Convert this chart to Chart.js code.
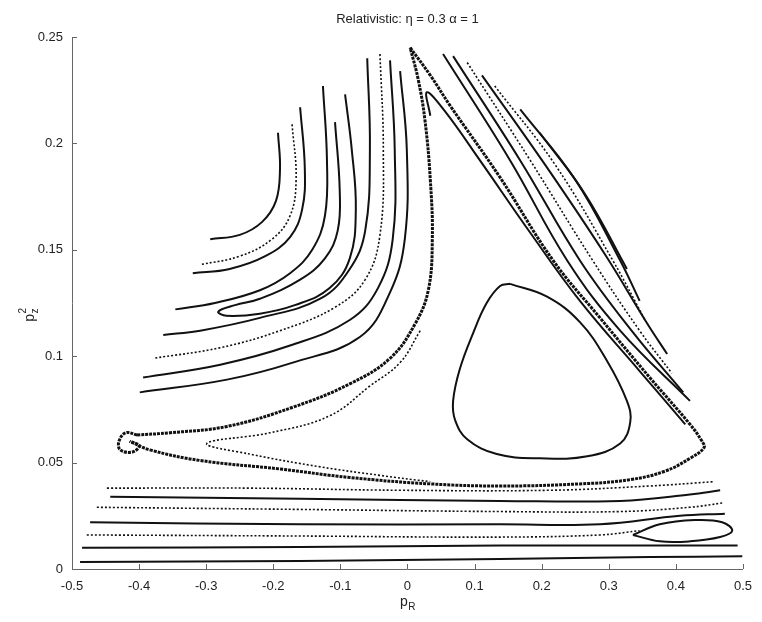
<!DOCTYPE html>
<html>
<head>
<meta charset="utf-8">
<script src="https://cdn.jsdelivr.net/npm/chart.js@4.4.0/dist/chart.umd.min.js"></script>
<style>
  html, body { margin: 0; padding: 0; background: #fff; }
  canvas { display: block; }
</style>
</head>
<body>
<canvas id="section" width="762" height="622"></canvas>
<script>
// Poincare section, relativistic case: pR on x, pz^2 on y
const titleText = "Relativistic: \u03b7 = 0.3 \u03b1 = 1";
const xTicks = [-0.5, -0.4, -0.3, -0.2, -0.1, 0, 0.1, 0.2, 0.3, 0.4, 0.5];
const yTicks = [0, 0.05, 0.1, 0.15, 0.2, 0.25];

// central regular island
const islandLoop = [
  [0.153, 0.134], [0.208, 0.128], [0.257, 0.116], [0.297, 0.098], [0.327, 0.079],
  [0.332, 0.069], [0.317, 0.059], [0.268, 0.053], [0.197, 0.052], [0.133, 0.054],
  [0.089, 0.061], [0.071, 0.070], [0.068, 0.079], [0.078, 0.094], [0.098, 0.111],
  [0.118, 0.125], [0.138, 0.133], [0.153, 0.134]
];

// separatrix: apex -> right corner -> bottom edge -> left corner
const sepRight = [
  [0.004, 0.245], [0.034, 0.232], [0.063, 0.218], [0.138, 0.184], [0.217, 0.145],
  [0.287, 0.118], [0.361, 0.090], [0.421, 0.068], [0.439, 0.060], [0.442, 0.057],
  [0.421, 0.052], [0.384, 0.046], [0.332, 0.042], [0.257, 0.040], [0.138, 0.039],
  [0.034, 0.040], [-0.086, 0.043], [-0.190, 0.047], [-0.309, 0.051], [-0.384, 0.056],
  [-0.414, 0.060]
];
// separatrix: left corner back up to apex
const sepLeft = [
  [-0.403, 0.063], [-0.354, 0.064], [-0.269, 0.067], [-0.171, 0.076], [-0.086, 0.087],
  [-0.026, 0.099], [0.011, 0.115], [0.031, 0.131], [0.037, 0.155], [0.034, 0.183],
  [0.026, 0.211], [0.016, 0.230], [0.004, 0.245]
];
const sepCorner = [
  [-0.403, 0.063], [-0.420, 0.064], [-0.430, 0.060], [-0.428, 0.056], [-0.410, 0.055],
  [-0.400, 0.058], [-0.414, 0.060]
];
const sepInnerLeft = [
  [0.019, 0.112], [-0.011, 0.097], [-0.056, 0.086], [-0.116, 0.072], [-0.205, 0.064],
  [-0.299, 0.059], [-0.235, 0.054], [-0.130, 0.048], [-0.041, 0.044], [0.034, 0.041]
];
const sepInnerRight = [
  [0.034, 0.213], [0.029, 0.224], [0.056, 0.215], [0.108, 0.192], [0.183, 0.158],
  [0.257, 0.126], [0.346, 0.093], [0.414, 0.068]
];

// chaotic layers beyond the right edge
const ur1 = [[0.053, 0.242], [0.153, 0.192], [0.238, 0.145], [0.317, 0.112], [0.421, 0.079]];
const ur2 = [[0.068, 0.241], [0.168, 0.192], [0.257, 0.145], [0.334, 0.112], [0.411, 0.083]];
const ur3 = [[0.089, 0.238], [0.183, 0.192], [0.276, 0.145], [0.346, 0.112], [0.394, 0.092]];
const ur4 = [[0.111, 0.232], [0.205, 0.190], [0.294, 0.148], [0.358, 0.115], [0.387, 0.101]];
const ur5 = [[0.130, 0.227], [0.220, 0.190], [0.306, 0.145], [0.354, 0.117]];
const ur6 = [[0.168, 0.216], [0.250, 0.183], [0.317, 0.145], [0.346, 0.126]];
const ur7 = [[0.197, 0.205], [0.265, 0.176], [0.327, 0.141]];

// arcs in the upper left
const arc1 = [[-0.193, 0.205], [-0.190, 0.188], [-0.196, 0.173], [-0.217, 0.163], [-0.250, 0.157], [-0.294, 0.155]];
const arc1b = [[-0.172, 0.209], [-0.166, 0.183], [-0.175, 0.166], [-0.202, 0.155], [-0.250, 0.147], [-0.309, 0.143]];
const arc2 = [[-0.160, 0.217], [-0.153, 0.188], [-0.157, 0.169], [-0.175, 0.156], [-0.212, 0.147], [-0.265, 0.141], [-0.320, 0.139]];
const arc3 = [[-0.126, 0.227], [-0.120, 0.192], [-0.123, 0.166], [-0.142, 0.150], [-0.175, 0.139], [-0.220, 0.131], [-0.287, 0.125], [-0.346, 0.122]];
const hairpin = [
  [-0.108, 0.210], [-0.101, 0.178], [-0.104, 0.159], [-0.123, 0.146], [-0.160, 0.136],
  [-0.220, 0.127], [-0.257, 0.124], [-0.282, 0.121], [-0.270, 0.119], [-0.220, 0.120],
  [-0.168, 0.124], [-0.116, 0.132], [-0.086, 0.146], [-0.077, 0.169], [-0.083, 0.197],
  [-0.093, 0.223]
];
const arc4 = [[-0.060, 0.240], [-0.056, 0.197], [-0.063, 0.159], [-0.086, 0.141], [-0.130, 0.127], [-0.220, 0.118], [-0.309, 0.112], [-0.364, 0.110]];
const arc5 = [[-0.041, 0.242], [-0.036, 0.197], [-0.041, 0.157], [-0.063, 0.136], [-0.108, 0.123], [-0.190, 0.112], [-0.279, 0.104], [-0.379, 0.099]];
const arc6 = [[-0.026, 0.239], [-0.019, 0.197], [-0.022, 0.155], [-0.044, 0.132], [-0.086, 0.117], [-0.175, 0.105], [-0.279, 0.096], [-0.394, 0.090]];
const arc7 = [[-0.011, 0.234], [-0.001, 0.197], [-0.004, 0.155], [-0.026, 0.130], [-0.071, 0.109], [-0.171, 0.097], [-0.269, 0.089], [-0.399, 0.083]];

// nearly flat orbits close to pz = 0
const low1 = [[-0.448, 0.038], [-0.235, 0.038], [-0.011, 0.037], [0.212, 0.037], [0.361, 0.039], [0.455, 0.041]];
const low2 = [[-0.443, 0.034], [-0.160, 0.033], [0.138, 0.032], [0.317, 0.032], [0.421, 0.035], [0.466, 0.037]];
const low3 = [[-0.463, 0.029], [-0.160, 0.028], [0.138, 0.027], [0.317, 0.027], [0.421, 0.029], [0.469, 0.031]];
const low4 = [[-0.473, 0.022], [-0.160, 0.021], [0.138, 0.021], [0.287, 0.021], [0.406, 0.025], [0.473, 0.026]];
const low5 = [[-0.478, 0.016], [-0.160, 0.0155], [0.138, 0.015], [0.287, 0.016], [0.346, 0.018]];
const lowIsland = [[0.336, 0.016], [0.376, 0.021], [0.428, 0.023], [0.469, 0.022], [0.484, 0.018], [0.466, 0.015], [0.421, 0.013], [0.376, 0.013], [0.336, 0.016]];
const low6 = [[-0.485, 0.010], [-0.160, 0.0103], [0.138, 0.011], [0.317, 0.011], [0.436, 0.011], [0.492, 0.011]];
const low7 = [[-0.488, 0.0033], [-0.160, 0.0038], [0.138, 0.0047], [0.361, 0.0056], [0.499, 0.006]];

const SOLID = { w: 2 };
const DOTTED = { w: 1.6, dash: [2, 2] };
const HEAVY = { w: 3, dash: [3, 1] };

const curves = [
  [islandLoop, SOLID], [sepRight, HEAVY], [sepLeft, HEAVY], [sepCorner, HEAVY],
  [sepInnerLeft, DOTTED], [sepInnerRight, SOLID],
  [ur1, SOLID], [ur2, SOLID], [ur3, DOTTED], [ur4, SOLID], [ur5, DOTTED], [ur6, SOLID], [ur7, SOLID],
  [arc1, SOLID], [arc1b, DOTTED], [arc2, SOLID], [arc3, SOLID], [hairpin, SOLID],
  [arc4, SOLID], [arc5, DOTTED], [arc6, SOLID], [arc7, SOLID],
  [low1, DOTTED], [low2, SOLID], [low3, DOTTED], [low4, SOLID], [low5, DOTTED],
  [lowIsland, SOLID], [low6, SOLID], [low7, SOLID]
];

const datasets = curves.map(([pts, st]) => ({
  data: pts.map(([x, y]) => ({ x, y })),
  showLine: true,
  borderColor: "#111",
  borderWidth: st.w,
  borderDash: st.dash || [],
  pointRadius: 0,
  tension: 0.4,
  fill: false
}));

const FONT = "Liberation Sans";
const fmt = v => String(Math.round(v * 100) / 100);

// text with optional sub/superscript, centred on (cx, cy)
function drawScript(ctx, base, sub, sup, cx, cy) {
  ctx.font = `14px "${FONT}"`;
  const bw = ctx.measureText(base).width;
  ctx.font = `10px "${FONT}"`;
  const sw = Math.max(sub ? ctx.measureText(sub).width : 0, sup ? ctx.measureText(sup).width : 0);
  const x0 = cx - (bw + sw) / 2;
  ctx.textAlign = "left";
  ctx.textBaseline = "middle";
  ctx.font = `14px "${FONT}"`;
  ctx.fillText(base, x0, cy);
  ctx.font = `10px "${FONT}"`;
  if (sub) ctx.fillText(sub, x0 + bw + 0.5, cy + 5);
  if (sup) ctx.fillText(sup, x0 + bw + 0.5, cy - 7);
}

const decorations = {
  id: "decorations",
  afterDraw(chart) {
    const { ctx, chartArea: a, scales: { x, y } } = chart;
    ctx.save();
    ctx.strokeStyle = "#666";
    ctx.lineWidth = 1;
    ctx.beginPath();
    xTicks.forEach(v => {
      const px = Math.round(x.getPixelForValue(v)) + 0.5;
      ctx.moveTo(px, a.bottom);
      ctx.lineTo(px, a.bottom - 5);
    });
    yTicks.forEach(v => {
      const py = Math.round(y.getPixelForValue(v)) + 0.5;
      ctx.moveTo(a.left, py);
      ctx.lineTo(a.left + 5, py);
    });
    ctx.stroke();

    ctx.fillStyle = "#222";
    ctx.font = `13px "${FONT}"`;
    ctx.textAlign = "center";
    ctx.textBaseline = "middle";
    ctx.fillText(titleText, (a.left + a.right) / 2, 19);

    drawScript(ctx, "p", "R", null, (a.left + a.right) / 2, 602);

    ctx.translate(30, 315);
    ctx.rotate(-Math.PI / 2);
    drawScript(ctx, "p", "z", "2", 0, 0);
    ctx.restore();
  }
};

new Chart(document.getElementById("section"), {
  type: "scatter",
  data: { datasets },
  plugins: [decorations],
  options: {
    responsive: false,
    animation: false,
    devicePixelRatio: 1,
    layout: { padding: { top: 37, right: 19, left: 0, bottom: 0 } },
    plugins: { legend: { display: false }, tooltip: { enabled: false } },
    scales: {
      x: {
        type: "linear",
        min: -0.5,
        max: 0.5,
        grid: { display: false, drawTicks: false },
        border: { display: true, color: "#666" },
        ticks: {
          stepSize: 0.1, autoSkip: false, maxRotation: 0, padding: 10,
          color: "#222", font: { family: FONT, size: 13 }, callback: fmt
        },
        afterFit: s => { s.height = 53; }
      },
      y: {
        type: "linear",
        min: 0,
        max: 0.25,
        grid: { display: false, drawTicks: false },
        border: { display: true, color: "#666" },
        ticks: {
          stepSize: 0.05, autoSkip: false, padding: 9,
          color: "#222", font: { family: FONT, size: 13 }, callback: fmt
        },
        afterFit: s => { s.width = 72; }
      }
    }
  }
});
</script>
</body>
</html>
